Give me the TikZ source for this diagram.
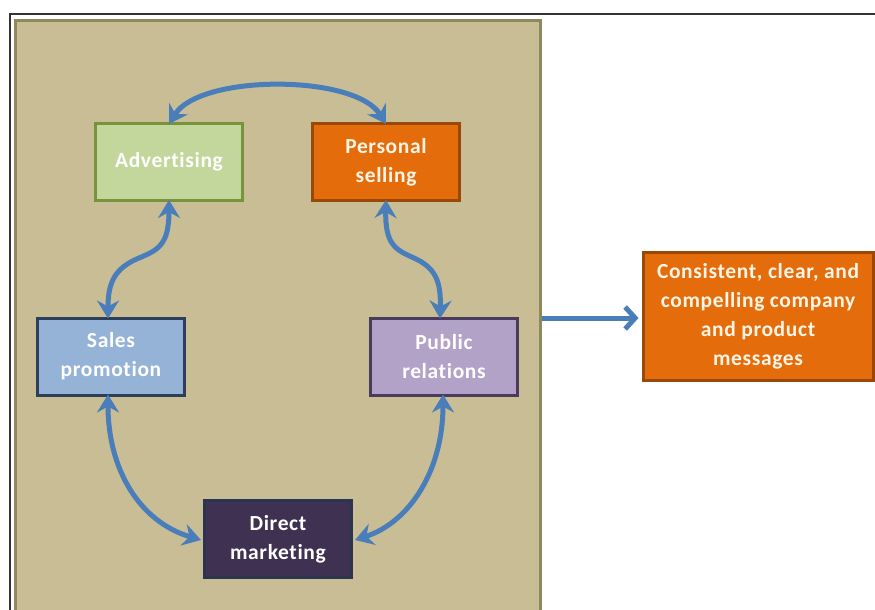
\documentclass[tikz,border=0pt]{standalone}
\usepackage{fontspec}
\setmainfont{Carlito}[Ligatures={NoCommon}, LetterSpace=3]
\usetikzlibrary{arrows.meta}
\definecolor{panelfill}{HTML}{C8BD95}
\definecolor{panelline}{HTML}{8C8A5C}
\definecolor{conn}{HTML}{4A7EBB}
\definecolor{advfill}{HTML}{C3D69B}
\definecolor{advline}{HTML}{77933C}
\definecolor{psfill}{HTML}{E46C0A}
\definecolor{psline}{HTML}{984807}
\definecolor{spfill}{HTML}{95B3D7}
\definecolor{spline}{HTML}{2C3E5A}
\definecolor{prfill}{HTML}{B3A2C7}
\definecolor{prline}{HTML}{4A3A5C}
\definecolor{dmfill}{HTML}{3F3151}
\definecolor{dmline}{HTML}{2B3550}
\definecolor{txtcream}{HTML}{FFF5E6}
\tikzset{
  mbox/.style={draw, line width=3pt, minimum width=147pt, minimum height=77pt, inner sep=0pt,
    align=center, text=white, font=\fontsize{21.5}{29}\selectfont\bfseries},
  conn2/.style={draw=conn, line width=5pt, {Stealth[length=18pt,width=22pt,inset=6pt]}-{Stealth[length=18pt,width=22pt,inset=6pt]}},
  conn1/.style={draw=conn, line width=5pt, -{Straight Barb[length=10pt,width=22pt,line width=5pt]}}
}
\begin{document}
\begin{tikzpicture}[x=1pt,y=-1pt]
\useasboundingbox (0,0) rectangle (875,610);
\fill[white] (0,0) rectangle (875,610);
\draw[line width=1.5pt, draw=black!80] (875,14) -- (10,14) -- (10,612);
\draw[draw=panelline, fill=panelfill, line width=3pt] (15.5,20.5) rectangle (540,620);
\node[mbox, fill=advfill, draw=advline] (adv) at (169,162) {Advertising};
\node[mbox, fill=psfill, draw=psline, text=txtcream] (ps) at (386,162) {Personal\\selling};
\node[mbox, fill=spfill, draw=spline] (sp) at (111,356.5) {Sales\\promotion};
\node[mbox, fill=prfill, draw=prline] (pr) at (444,356.5) {Public\\relations};
\node[mbox, fill=dmfill, draw=dmline] (dm) at (278,539) {Direct\\marketing};
\node[mbox, fill=psfill, draw=psline, text=txtcream, minimum width=230pt, minimum height=128pt] (res) at (758,316) {Consistent, clear, and\\compelling company\\and product\\messages};
\coordinate (pout) at (542,318);
\draw[conn2] ([yshift=-2pt]adv.north) .. controls (200,74) and (355,74) .. ([yshift=-2pt]ps.north);
\draw[conn2] ([yshift=2pt]adv.south) .. controls (169,245) and (158,250) .. (139,258) .. controls (115,268) and (108,282) .. ([yshift=-2pt,xshift=-3pt]sp.north);
\draw[conn2] ([yshift=2pt]ps.south) .. controls (385,245) and (396,250) .. (414,258) .. controls (436,268) and (441,282) .. ([yshift=-2pt,xshift=-4pt]pr.north);
\draw[conn2] ([yshift=2pt,xshift=-3pt]sp.south) .. controls (108,470) and (140,522) .. ([xshift=-2pt,yshift=-1pt]dm.west);
\draw[conn2] ([yshift=2pt,xshift=-1pt]pr.south) .. controls (443,470) and (410,522) .. ([xshift=2pt,yshift=-1pt]dm.east);
\draw[conn1] (pout) -- ([xshift=-3pt]res.west |- pout);
\end{tikzpicture}
\end{document}
